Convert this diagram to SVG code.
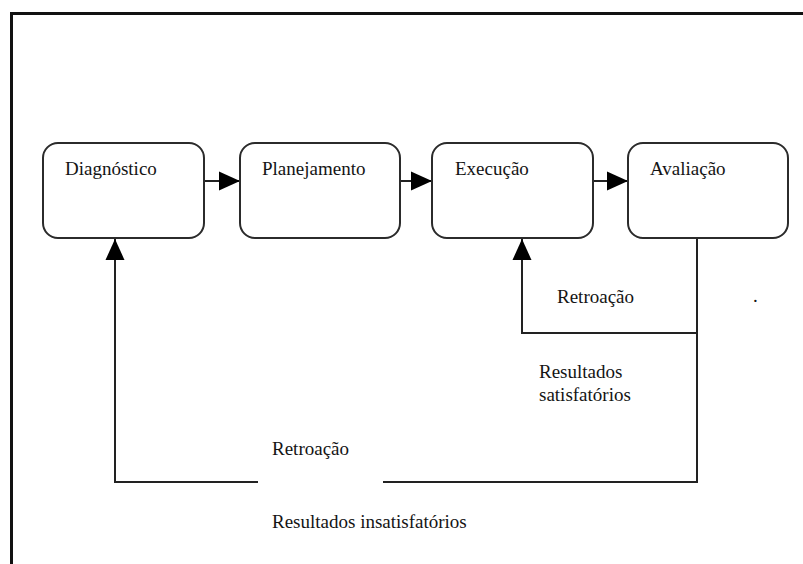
<svg xmlns="http://www.w3.org/2000/svg" width="803" height="564" viewBox="0 0 803 564">
<defs>
<style>
.box{fill:#fff;stroke:#2b2b2b;stroke-width:2}
.lbl{font-family:"Liberation Serif","Times New Roman",serif;font-size:19px;fill:#141414}
.ln{fill:none;stroke:#222;stroke-width:2}
</style>
<marker id="ah" markerUnits="userSpaceOnUse" markerWidth="21" markerHeight="20" viewBox="0 0 21 20" refX="21" refY="10" orient="auto">
<path d="M0,0.5 L21,10 L0,19.5 Z" fill="#000"/>
</marker>
</defs>
<rect width="803" height="564" fill="#fff"/>
<rect id="frame" x="11.5" y="13.5" width="900" height="700" fill="none" stroke="#111" stroke-width="3"/>
<g id="connectors">
<line class="ln" x1="204" y1="181" x2="240" y2="181" marker-end="url(#ah)"/>
<line class="ln" x1="400" y1="181" x2="432" y2="181" marker-end="url(#ah)"/>
<line class="ln" x1="593" y1="181" x2="628" y2="181" marker-end="url(#ah)"/>
<path class="ln" d="M697 333 H522 V239" marker-end="url(#ah)"/>
<path class="ln" d="M697 238 V482 H383"/>
<path class="ln" d="M258 482 H115 V239" marker-end="url(#ah)"/>
</g>
<g id="diagnostico">
<rect class="box" x="43" y="143" width="161" height="95" rx="15"/>
<text class="lbl" x="65" y="175">Diagnóstico</text>
</g>
<g id="planejamento">
<rect class="box" x="240" y="143" width="160" height="95" rx="15"/>
<text class="lbl" x="262" y="175">Planejamento</text>
</g>
<g id="execucao">
<rect class="box" x="432" y="143" width="161" height="95" rx="15"/>
<text class="lbl" x="455" y="175">Execução</text>
</g>
<g id="avaliacao">
<rect class="box" x="628" y="143" width="160" height="95" rx="15"/>
<text class="lbl" x="650" y="175">Avaliação</text>
</g>
<g id="labels">
<text class="lbl" x="557" y="303">Retroação</text>
<text class="lbl" x="753" y="302">.</text>
<text class="lbl" x="539" y="378">Resultados</text>
<text class="lbl" x="539" y="401">satisfatórios</text>
<text class="lbl" x="272" y="455">Retroação</text>
<text class="lbl" x="272" y="528">Resultados insatisfatórios</text>
</g>
</svg>
